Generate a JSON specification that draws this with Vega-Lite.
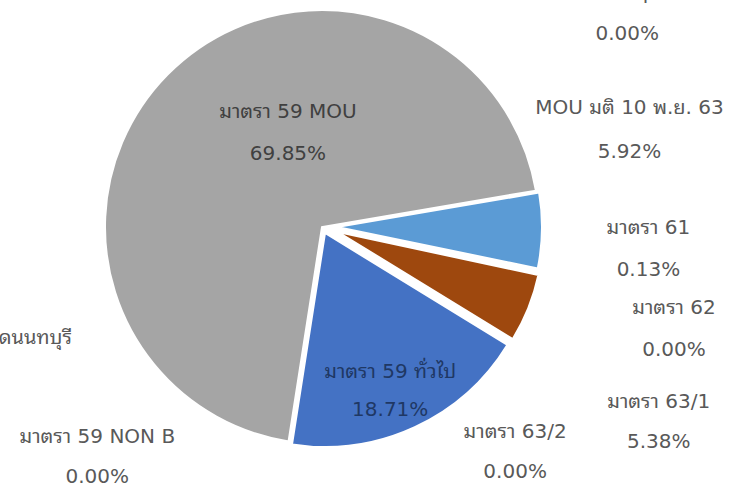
{
  "$schema": "https://vega.github.io/schema/vega-lite/v6.json",
  "autosize": {"type": "none"},
  "padding": {"left": 76, "top": 0, "right": 164, "bottom": 30},
  "width": 492,
  "height": 458,
  "background": "white",
  "config": {
    "view": {"stroke": null},
    "font": "'DejaVu Sans', 'Noto Sans Thai Looped', Tahoma, Loma, Garuda, 'Noto Sans Thai', sans-serif",
    "text": {"fontSize": 20, "align": "center", "baseline": "middle", "color": "#595959"},
    "arc": {"stroke": "white", "strokeWidth": 2}
  },
  "data": {"values": [
    {"order": 1, "label": "มาตรา 59 ทั่วไป", "share": 0.1871},
    {"order": 2, "label": "มาตรา 59 NON B", "share": 0},
    {"order": 3, "label": "มาตรา 59 MOU", "share": 0.6985},
    {"order": 4, "label": "อื่น ๆ", "share": 0},
    {"order": 5, "label": "MOU มติ 10 พ.ย. 63", "share": 0.0592},
    {"order": 6, "label": "มาตรา 61", "share": 0.0013},
    {"order": 7, "label": "มาตรา 62", "share": 0},
    {"order": 8, "label": "มาตรา 63/1", "share": 0.0538},
    {"order": 9, "label": "มาตรา 63/2", "share": 0}
  ]},
  "transform": [
    {"stack": "share", "groupby": [], "sort": [{"field": "order", "order": "ascending"}], "as": ["v0", "v1"]}
  ],
  "encoding": {
    "theta": {"field": "v0", "type": "quantitative", "scale": {"domain": [0, 0.9999], "range": [2.1206, 8.4038]}}
  },
  "layer": [
    {"transform": [{"filter": "datum.label === 'มาตรา 59 MOU'"}],
     "mark": {"type": "arc", "radius": 217, "yOffset": -2},
     "encoding": {"theta2": {"field": "v1"},
       "color": {"field": "label", "type": "nominal", "legend": null,
         "scale": {"domain": ["มาตรา 59 ทั่วไป", "มาตรา 59 NON B", "มาตรา 59 MOU", "อื่น ๆ", "MOU มติ 10 พ.ย. 63", "มาตรา 61", "มาตรา 62", "มาตรา 63/1", "มาตรา 63/2"],
                   "range": ["#4472C4", "#ED7D31", "#A5A5A5", "#FFC000", "#5B9BD5", "#70AD47", "#264478", "#9E480E", "#636363"]}}}},
    {"transform": [{"filter": "datum.label === 'มาตรา 59 ทั่วไป'"}],
     "mark": {"type": "arc", "radius": 214, "xOffset": 3, "yOffset": 4},
     "encoding": {"theta2": {"field": "v1"}, "color": {"field": "label", "type": "nominal", "legend": null}}},
    {"transform": [{"filter": "datum.label === 'MOU มติ 10 พ.ย. 63'"}],
     "mark": {"type": "arc", "radius": 205, "xOffset": 15, "yOffset": -2},
     "encoding": {"theta2": {"field": "v1"}, "color": {"field": "label", "type": "nominal", "legend": null}}},
    {"transform": [{"filter": "datum.label === 'มาตรา 61' || datum.label === 'มาตรา 63/1'"}],
     "mark": {"type": "arc", "radius": 205, "xOffset": 16, "yOffset": 3},
     "encoding": {"theta2": {"field": "v1"}, "color": {"field": "label", "type": "nominal", "legend": null}}},

    {"transform": [{"filter": "datum.order === 1"}],
     "mark": {"type": "text", "thetaOffset": 2.1799, "radius": 273, "align": "right"},
     "encoding": {"text": {"value": "จังหวัดนนทบุรี"}}},

    {"transform": [{"filter": "datum.label === 'มาตรา 59 MOU'"}],
     "mark": {"type": "text", "thetaOffset": 2.6466, "radius": 102, "dy": -21, "color": "#404040"},
     "encoding": {"text": {"field": "label"}}},
    {"transform": [{"filter": "datum.label === 'มาตรา 59 MOU'"}],
     "mark": {"type": "text", "thetaOffset": 2.6466, "radius": 102, "dy": 21, "color": "#404040"},
     "encoding": {"text": {"field": "share", "format": ".2%"}}},

    {"transform": [{"filter": "datum.label === 'มาตรา 59 ทั่วไป'"}],
     "mark": {"type": "text", "thetaOffset": 0.6231, "radius": 176, "dy": -19, "color": "#1F3864"},
     "encoding": {"text": {"field": "label"}}},
    {"transform": [{"filter": "datum.label === 'มาตรา 59 ทั่วไป'"}],
     "mark": {"type": "text", "thetaOffset": 0.6231, "radius": 176, "dy": 19, "color": "#1F3864"},
     "encoding": {"text": {"field": "share", "format": ".2%"}}},

    {"transform": [{"filter": "datum.label === 'มาตรา 59 NON B'"}],
     "mark": {"type": "text", "thetaOffset": 0.6238, "radius": 320, "dy": -20},
     "encoding": {"text": {"field": "label"}}},
    {"transform": [{"filter": "datum.label === 'มาตรา 59 NON B'"}],
     "mark": {"type": "text", "thetaOffset": 0.6238, "radius": 320, "dy": 20},
     "encoding": {"text": {"field": "share", "format": ".2%"}}},

    {"transform": [{"filter": "datum.label === 'อื่น ๆ'"}],
     "mark": {"type": "text", "thetaOffset": -0.4477, "radius": 374, "dy": -21},
     "encoding": {"text": {"field": "label"}}},
    {"transform": [{"filter": "datum.label === 'อื่น ๆ'"}],
     "mark": {"type": "text", "thetaOffset": -0.4477, "radius": 374, "dy": 21},
     "encoding": {"text": {"field": "share", "format": ".2%"}}},

    {"transform": [{"filter": "datum.label === 'MOU มติ 10 พ.ย. 63'"}],
     "mark": {"type": "text", "thetaOffset": -0.1422, "radius": 323, "dy": -22},
     "encoding": {"text": {"field": "label"}}},
    {"transform": [{"filter": "datum.label === 'MOU มติ 10 พ.ย. 63'"}],
     "mark": {"type": "text", "thetaOffset": -0.1422, "radius": 323, "dy": 22},
     "encoding": {"text": {"field": "share", "format": ".2%"}}},

    {"transform": [{"filter": "datum.label === 'มาตรา 61'"}],
     "mark": {"type": "text", "thetaOffset": -0.1426, "radius": 327, "dy": -21},
     "encoding": {"text": {"field": "label"}}},
    {"transform": [{"filter": "datum.label === 'มาตรา 61'"}],
     "mark": {"type": "text", "thetaOffset": -0.1426, "radius": 327, "dy": 21},
     "encoding": {"text": {"field": "share", "format": ".2%"}}},

    {"transform": [{"filter": "datum.label === 'มาตรา 62'"}],
     "mark": {"type": "text", "thetaOffset": 0.0656, "radius": 366, "dy": -21},
     "encoding": {"text": {"field": "label"}}},
    {"transform": [{"filter": "datum.label === 'มาตรา 62'"}],
     "mark": {"type": "text", "thetaOffset": 0.0656, "radius": 366, "dy": 21},
     "encoding": {"text": {"field": "share", "format": ".2%"}}},

    {"transform": [{"filter": "datum.label === 'มาตรา 63/1'"}],
     "mark": {"type": "text", "thetaOffset": 0.3082, "radius": 388, "dy": -20},
     "encoding": {"text": {"field": "label"}}},
    {"transform": [{"filter": "datum.label === 'มาตรา 63/1'"}],
     "mark": {"type": "text", "thetaOffset": 0.3082, "radius": 388, "dy": 20},
     "encoding": {"text": {"field": "share", "format": ".2%"}}},

    {"transform": [{"filter": "datum.label === 'มาตรา 63/2'"}],
     "mark": {"type": "text", "thetaOffset": 0.3072, "radius": 295, "dy": -20},
     "encoding": {"text": {"field": "label"}}},
    {"transform": [{"filter": "datum.label === 'มาตรา 63/2'"}],
     "mark": {"type": "text", "thetaOffset": 0.3072, "radius": 295, "dy": 20},
     "encoding": {"text": {"field": "share", "format": ".2%"}}}
  ]
}
